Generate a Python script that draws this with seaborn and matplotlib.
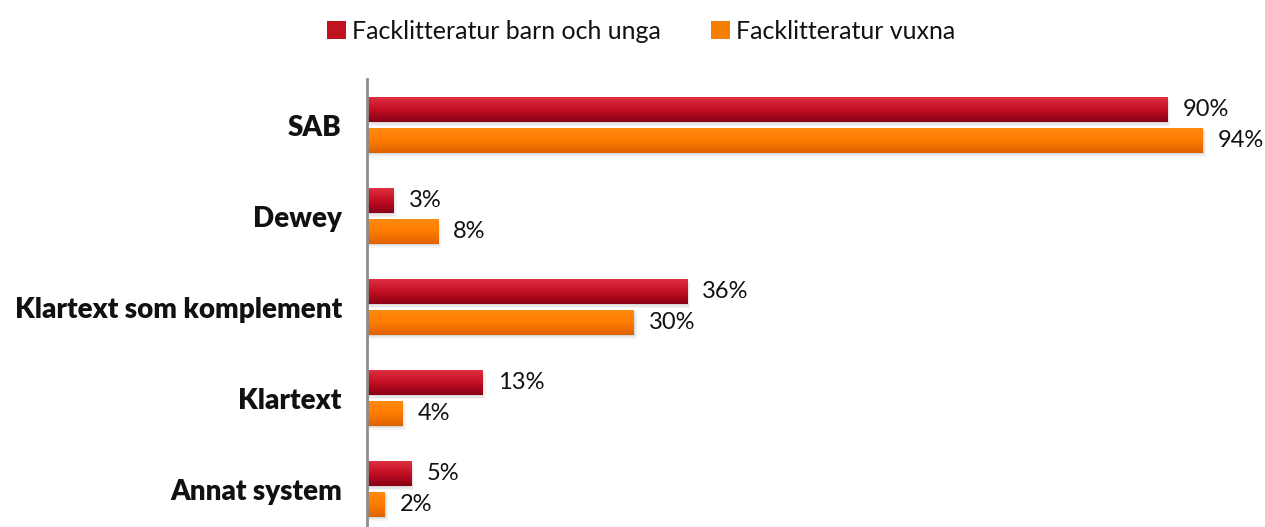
import numpy as np
import pandas as pd
import seaborn as sns
import matplotlib.pyplot as plt
from matplotlib.colors import LinearSegmentedColormap
from matplotlib.patches import Rectangle

# data
categories = ["SAB", "Dewey", "Klartext som komplement", "Klartext", "Annat system"]
series = ["Facklitteratur barn och unga", "Facklitteratur vuxna"]
barn_unga = [90, 3, 36, 13, 5]
vuxna = [94, 8, 30, 4, 2]
colors = ["#C1121F", "#F77F00"]

# top -> bottom shading of each series (bars look glossy in the original)
shades = [["#DE3040", "#C30F22", "#8A0016"], ["#FF8A10", "#FF7C00", "#DD6200"]]

df = pd.DataFrame({
    "kategori": categories * 2,
    "serie": [series[0]] * len(categories) + [series[1]] * len(categories),
    "andel": barn_unga + vuxna,
})

sns.set_style("white")
plt.rcParams["font.family"] = ["Lato", "DejaVu Sans"]

fig = plt.figure(figsize=(12.65, 5.27), dpi=100)
ax = fig.add_axes([0.290, -0.0315, 0.703, 0.8815])

sns.barplot(data=df, y="kategori", x="andel", hue="serie", order=categories,
            hue_order=series, palette=colors, orient="h", width=0.67, gap=0.18,
            saturation=1, linewidth=0, ax=ax, legend=True)

ax.set_xlim(0, 100)
ax.set_ylim(4.6, -0.505)

# gradient fill + soft shadow for each bar
grad = np.linspace(0, 1, 64).reshape(-1, 1)
for cont, sh in zip(ax.containers, shades):
    cmap = LinearSegmentedColormap.from_list("g", sh)
    for bar in cont:
        bar.set_edgecolor("none")
        x0, y0 = bar.get_x(), bar.get_y()
        w, h = bar.get_width(), bar.get_height()
        for k, a in [(1.0, 0.07), (0.6, 0.09), (0.3, 0.11)]:
            ax.add_patch(Rectangle((x0, y0 + 0.045 * k), w + 0.35 * k, h,
                                   color="#666666", alpha=a, lw=0, zorder=0.5))
        im = ax.imshow(grad, cmap=cmap, aspect="auto", extent=(x0, x0 + w, y0 + h, y0),
                       zorder=bar.get_zorder() + 0.1, interpolation="bilinear")
        im.set_clip_path(bar)

ax.set_xlim(0, 100)
ax.set_ylim(4.6, -0.505)

for cont in ax.containers:
    ax.bar_label(cont, labels=[f"{v:.0f}%" for v in cont.datavalues],
                 padding=11, fontsize=17, color="#111111")

ax.set_xlabel("")
ax.set_ylabel("")
ax.set_xticks([])
ax.tick_params(axis="y", length=0, pad=18, labelsize=20)
for lab in ax.get_yticklabels():
    lab.set_fontweight("heavy")
    lab.set_color("#111111")

for side in ["top", "right", "bottom"]:
    ax.spines[side].set_visible(False)
ax.spines["left"].set_color("#8C8C8C")
ax.spines["left"].set_linewidth(2)

handles, labels = ax.get_legend_handles_labels()
ax.get_legend().remove()
leg = fig.legend(handles, labels, loc="upper center", bbox_to_anchor=(0.507, 1.005),
                 ncol=2, frameon=False, fontsize=18, handlelength=0.75, handleheight=0.75,
                 handletextpad=0.25, columnspacing=2.0)
for t in leg.get_texts():
    t.set_color("#111111")

fig.savefig("out.png", dpi=100)
